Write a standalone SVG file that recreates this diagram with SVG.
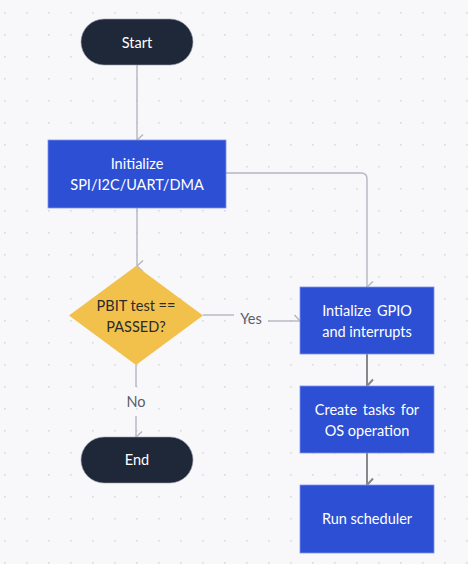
<svg xmlns="http://www.w3.org/2000/svg" width="468" height="564" viewBox="0 0 468 564">
<defs>
<pattern id="dots" x="4" y="12" width="22" height="22" patternUnits="userSpaceOnUse">
<circle cx="0.8" cy="0.8" r="0.9" fill="#d6d8de"/>
</pattern>
<marker id="arr" viewBox="0 0 14 12" refX="7" refY="11" markerWidth="14" markerHeight="12" markerUnits="userSpaceOnUse" orient="auto-start-reverse">
<path d="M1.5,5 L7,11 L12.5,5" fill="none" stroke="#b3b7c0" stroke-width="1.5"/>
</marker>
<marker id="arrD" viewBox="0 0 16 12" refX="8" refY="11" markerWidth="16" markerHeight="12" markerUnits="userSpaceOnUse" orient="auto-start-reverse">
<path d="M1.5,5 L8,11 L14.5,5" fill="none" stroke="#85878b" stroke-width="2"/>
</marker>
</defs>
<style>
.pill{fill:#1f2839;stroke:#9aa0ab;stroke-width:0.6}
.box{fill:#2c4fd3;stroke:#7d95ee;stroke-width:0.8}
.dia{fill:#f2c14c}
.wt{fill:#ffffff;font-family:Lato,"Liberation Sans",sans-serif;font-size:14.5px;text-anchor:middle}
.dt{fill:#2a2a2a;font-family:Lato,"Liberation Sans",sans-serif;font-size:14.5px;text-anchor:middle}
.lbl{fill:#5a5d63;font-family:Lato,"Liberation Sans",sans-serif;font-size:14.5px;text-anchor:middle}
.ln{fill:none;stroke:#b3b7c0;stroke-width:1.4}
.lnD{fill:none;stroke:#85878b;stroke-width:2}
</style>
<rect width="468" height="564" fill="#f8f8fb"/>
<rect width="468" height="564" fill="url(#dots)"/>
<g id="connectors">
<path class="ln" d="M137,65 V140" marker-end="url(#arr)"/>
<path class="ln" d="M226,173 H361 Q367,173 367,179 V287" marker-end="url(#arr)"/>
<path class="ln" d="M137,208 V266" marker-end="url(#arr)"/>
<path class="ln" d="M203,315 H234"/>
<path class="ln" d="M268,321 H300" marker-end="url(#arr)"/>
<path class="ln" d="M136,365 V387"/>
<path class="ln" d="M136,416 V437" marker-end="url(#arr)"/>
<path class="lnD" d="M367,354 V386" marker-end="url(#arrD)"/>
<path class="lnD" d="M367,453 V485" marker-end="url(#arrD)"/>
<text class="lbl" x="251" y="324">Yes</text>
<text class="lbl" x="136" y="407">No</text>
</g>
<g id="start">
<rect class="pill" x="81" y="19" width="112" height="46" rx="23"/>
<text class="wt" x="137" y="47.5">Start</text>
</g>
<g id="init">
<rect class="box" x="48" y="140" width="178" height="68"/>
<text class="wt" x="137" y="168.5">Initialize</text>
<text class="wt" x="137" y="189.5">SPI/I2C/UART/DMA</text>
</g>
<g id="pbit">
<polygon class="dia" points="136,266 203,315.5 136,365 69,315.5"/>
<text class="dt" x="136" y="311">PBIT test ==</text>
<text class="dt" x="136" y="332">PASSED?</text>
</g>
<g id="end">
<rect class="pill" x="81" y="437" width="112" height="46" rx="23"/>
<text class="wt" x="137" y="465">End</text>
</g>
<g id="gpio">
<rect class="box" x="300" y="287" width="134" height="67"/>
<text class="wt" x="367" y="316" word-spacing="2">Intialize GPIO</text>
<text class="wt" x="367" y="337">and interrupts</text>
</g>
<g id="tasks">
<rect class="box" x="300" y="386" width="134" height="67"/>
<text class="wt" x="367" y="415" word-spacing="2">Create tasks for</text>
<text class="wt" x="367" y="436">OS operation</text>
</g>
<g id="sched">
<rect class="box" x="300" y="485" width="134" height="68"/>
<text class="wt" x="367" y="524">Run scheduler</text>
</g>
</svg>
